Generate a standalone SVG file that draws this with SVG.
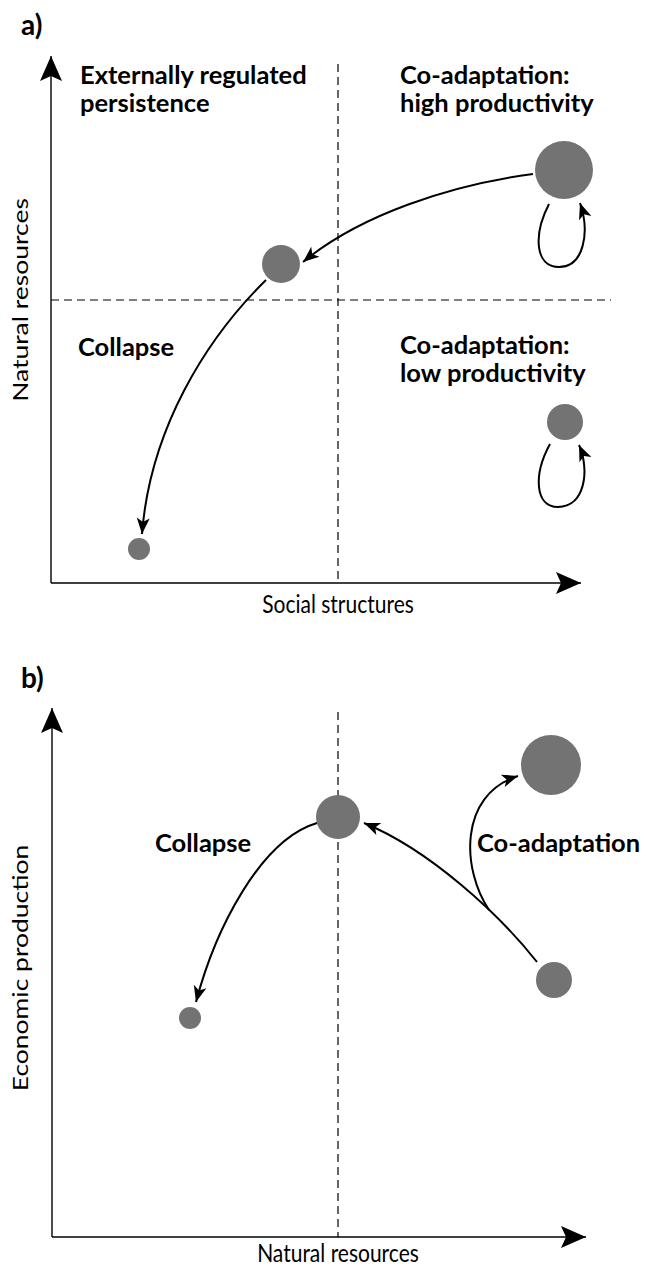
<svg xmlns="http://www.w3.org/2000/svg" width="648" height="1268" viewBox="0 0 648 1268">
<style>
.t{font-family:Lato,"Liberation Sans",sans-serif;font-size:21px;fill:#000}
.b{font-weight:bold;font-size:25.5px}
.ax{stroke:#000;stroke-width:1.4;fill:none}
.dash{stroke:#000;stroke-width:1.2;stroke-dasharray:8 5;fill:none}
.c{stroke:#000;stroke-width:2;fill:none}
.n{fill:#737373}
</style>
<defs>
<marker id="axh" markerUnits="userSpaceOnUse" viewBox="-26 -12 28 24" markerWidth="28" markerHeight="24" refX="0" refY="0" orient="auto">
<path d="M0,0 L-25,-11 L-20,0 L-25,11 Z" fill="#000"/>
</marker>
<marker id="ah" markerUnits="userSpaceOnUse" viewBox="-18 -8 20 16" markerWidth="20" markerHeight="16" refX="0" refY="0" orient="auto">
<path d="M0,0 L-16,-6.5 L-12,0 L-16,6.5 Z" fill="#000"/>
</marker>
</defs>

<g id="panel-a">
<text class="t b" x="21" y="35" style="font-size:28px">a)</text>
<g id="axes-a">
<path class="ax" d="M51,583 L51,56" marker-end="url(#axh)"/>
<path class="ax" d="M51,583 L581,583" marker-end="url(#axh)"/>
<path class="dash" d="M338,64 L338,583"/>
<path class="dash" d="M51,300 L611,300"/>
<text class="t" transform="translate(28,300) rotate(-90) scale(1.26,1)" text-anchor="middle">Natural resources</text>
<text class="t" transform="translate(338,613) scale(1,1.2)" text-anchor="middle">Social structures</text>
</g>
<g id="labels-a">
<text class="t b" x="80" y="84">Externally regulated</text>
<text class="t b" x="80" y="112">persistence</text>
<text class="t b" x="400" y="84">Co-adaptation:</text>
<text class="t b" x="400" y="112">high productivity</text>
<text class="t b" x="78" y="356">Collapse</text>
<text class="t b" x="400" y="354">Co-adaptation:</text>
<text class="t b" x="400" y="382">low productivity</text>
</g>
<g id="node-a-high"><circle class="n" cx="564" cy="170" r="29"/></g>
<g id="node-a-mid"><circle class="n" cx="281" cy="264" r="19"/></g>
<g id="node-a-small"><circle class="n" cx="139" cy="549" r="11"/></g>
<g id="node-a-low"><circle class="n" cx="565" cy="422" r="18"/></g>
<g id="connectors-a">
<path class="c" d="M533,174 C450,185 360,215 303,262" marker-end="url(#ah)"/>
<path class="c" d="M266,280 C205,340 150,430 142,534" marker-end="url(#ah)"/>
<path class="c" d="M549,204 C533,235 535,267 559,267 C584,267 590,232 580,203" marker-end="url(#ah)"/>
<path class="c" d="M550,444 C533,475 535,507 558,507 C585,507 590,470 579,445" marker-end="url(#ah)"/>
</g>
</g>

<g id="panel-b">
<text class="t b" x="21" y="688" style="font-size:28px">b)</text>
<g id="axes-b">
<path class="ax" d="M52,1237 L52,708" marker-end="url(#axh)"/>
<path class="ax" d="M52,1237 L586,1237" marker-end="url(#axh)"/>
<path class="dash" d="M338,712 L338,1237"/>
<text class="t" transform="translate(28,968) rotate(-90) scale(1.26,1)" text-anchor="middle">Economic production</text>
<text class="t" transform="translate(338,1262) scale(1,1.2)" text-anchor="middle">Natural resources</text>
</g>
<g id="labels-b">
<text class="t b" x="155" y="852">Collapse</text>
<text class="t b" x="477" y="852">Co-adaptation</text>
</g>
<g id="node-b-mid"><circle class="n" cx="338" cy="817" r="22"/></g>
<g id="node-b-high"><circle class="n" cx="551" cy="765" r="30"/></g>
<g id="node-b-low"><circle class="n" cx="554" cy="980" r="18"/></g>
<g id="node-b-small"><circle class="n" cx="190" cy="1018" r="11"/></g>
<g id="connectors-b">
<path class="c" d="M537,962 C500,915 430,850 364,823" marker-end="url(#ah)"/>
<path class="c" d="M489,910 C462,870 458,795 518,776" marker-end="url(#ah)"/>
<path class="c" d="M317,823 C260,840 215,930 196,1002" marker-end="url(#ah)"/>
</g>
</g>
</svg>
